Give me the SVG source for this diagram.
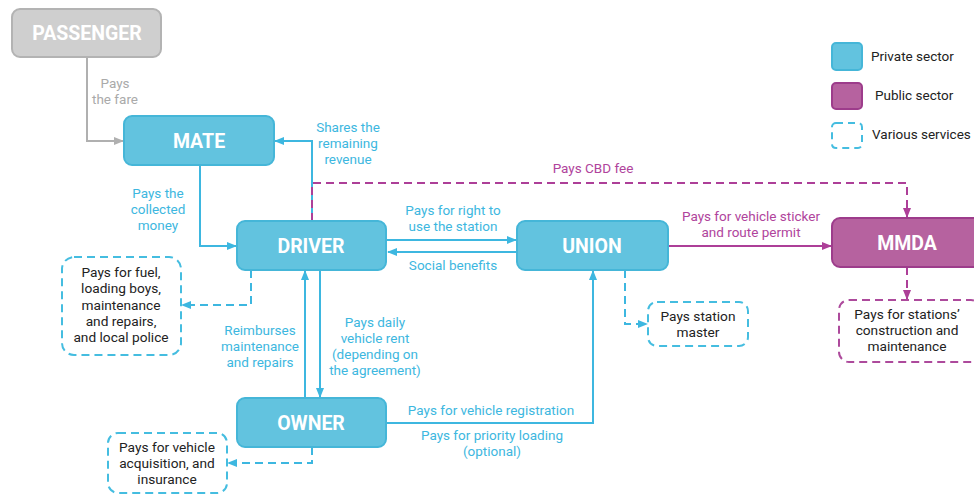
<svg xmlns="http://www.w3.org/2000/svg" width="974" height="495" viewBox="0 0 974 495">
<defs>
<style>
.node{stroke-width:2}
.priv{fill:#62c3df;stroke:#45b6d8}
.pub{fill:#b6629f;stroke:#9d3c8b}
.pas{fill:#cfcfcf;stroke:#b3b3b3}
.nt{font-family:Roboto,"Liberation Sans",sans-serif;font-weight:bold;font-size:19.5px;fill:#fff;text-anchor:middle}
.svc{fill:#fff;stroke:#45bde0;stroke-width:2;stroke-dasharray:8 5}
.svcm{fill:#fff;stroke:#ad4a9c;stroke-width:2;stroke-dasharray:8 5}
.st{font-family:Roboto,"Liberation Sans",sans-serif;font-size:13.7px;fill:#222;text-anchor:middle}
.lc{font-family:Roboto,"Liberation Sans",sans-serif;font-size:13.5px;fill:#3db7e0;text-anchor:middle}
.lm{font-family:Roboto,"Liberation Sans",sans-serif;font-size:13.5px;fill:#b0449c;text-anchor:middle}
.lg{font-family:Roboto,"Liberation Sans",sans-serif;font-size:13.5px;fill:#aaa;text-anchor:middle}
.leg{font-family:Roboto,"Liberation Sans",sans-serif;font-size:13.5px;fill:#222}
.cc{fill:none;stroke:#3db7e0;stroke-width:2}
.ccd{fill:none;stroke:#3db7e0;stroke-width:2;stroke-dasharray:8 5}
.cm{fill:none;stroke:#ad3f98;stroke-width:2}
.cmd{fill:none;stroke:#ad3f98;stroke-width:2;stroke-dasharray:8 5}
.cg{fill:none;stroke:#b0b0b0;stroke-width:2}
</style>
<marker id="ac" viewBox="0 0 10 10" refX="9" refY="5" markerWidth="5" markerHeight="5" orient="auto"><path d="M0,1 L10,5 L0,9 z" fill="#3db7e0"/></marker>
<marker id="am" viewBox="0 0 10 10" refX="9" refY="5" markerWidth="5" markerHeight="5" orient="auto"><path d="M0,1 L10,5 L0,9 z" fill="#ad3f98"/></marker>
<marker id="ag" viewBox="0 0 10 10" refX="9" refY="5" markerWidth="5" markerHeight="5" orient="auto"><path d="M0,1 L10,5 L0,9 z" fill="#b0b0b0"/></marker>
</defs>
<rect width="974" height="495" fill="#fff"/>

<g id="connectors">
<path class="cg" d="M87,58 V141 H123" marker-end="url(#ag)"/>
<path class="cc" d="M200,166 V246 H236" marker-end="url(#ac)"/>
<path class="cc" d="M312,221 V141 H275" marker-end="url(#ac)"/>
<path class="cmd" d="M312,221 V183 H907 V217" marker-end="url(#am)"/>
<path class="cc" d="M387,240 H516" marker-end="url(#ac)"/>
<path class="cc" d="M517,252 H388" marker-end="url(#ac)"/>
<path class="cm" d="M668,246 H831" marker-end="url(#am)"/>
<path class="cmd" d="M907,267 V299" marker-end="url(#am)"/>
<path class="ccd" d="M625,270 V324 H647" marker-end="url(#ac)"/>
<path class="ccd" d="M251,270 V305 H182" marker-end="url(#ac)"/>
<path class="cc" d="M305,398 V271" marker-end="url(#ac)"/>
<path class="cc" d="M320,270 V397" marker-end="url(#ac)"/>
<path class="cc" d="M387,423 H593 V271" marker-end="url(#ac)"/>
<path class="ccd" d="M312,447 V463 H228" marker-end="url(#ac)"/>
<text class="lg"><tspan x="115" y="88">Pays</tspan><tspan x="115" y="104">the fare</tspan></text>
<text class="lc"><tspan x="158" y="198">Pays the</tspan><tspan x="158" y="214">collected</tspan><tspan x="158" y="230">money</tspan></text>
<text class="lc"><tspan x="348" y="132">Shares the</tspan><tspan x="348" y="148">remaining</tspan><tspan x="348" y="164">revenue</tspan></text>
<text class="lm" x="593" y="173">Pays CBD fee</text>
<text class="lc"><tspan x="453" y="215">Pays for right to</tspan><tspan x="453" y="231">use the station</tspan></text>
<text class="lc" x="453" y="270">Social benefits</text>
<text class="lm"><tspan x="751" y="221">Pays for vehicle sticker</tspan><tspan x="751" y="237">and route permit</tspan></text>
<text class="lc"><tspan x="260" y="335">Reimburses</tspan><tspan x="260" y="351">maintenance</tspan><tspan x="260" y="367">and repairs</tspan></text>
<text class="lc"><tspan x="375" y="327">Pays daily</tspan><tspan x="375" y="343">vehicle rent</tspan><tspan x="375" y="359">(depending on</tspan><tspan x="375" y="375">the agreement)</tspan></text>
<text class="lc" x="491" y="415">Pays for vehicle registration</text>
<text class="lc"><tspan x="492" y="440">Pays for priority loading</tspan><tspan x="492" y="456">(optional)</tspan></text>
</g>

<g id="passenger"><rect class="node pas" x="12" y="9" width="149" height="48" rx="8"/><text class="nt" x="87" y="40">PASSENGER</text></g>
<g id="mate"><rect class="node priv" x="124" y="116" width="150" height="49" rx="8"/><text class="nt" x="199" y="148">MATE</text></g>
<g id="driver"><rect class="node priv" x="237" y="221" width="149" height="49" rx="8"/><text class="nt" x="311" y="253">DRIVER</text></g>
<g id="union"><rect class="node priv" x="517" y="221" width="151" height="49" rx="8"/><text class="nt" x="592" y="253">UNION</text></g>
<g id="mmda"><rect class="node pub" x="832" y="218" width="150" height="49" rx="8"/><text class="nt" x="907" y="250">MMDA</text></g>
<g id="owner"><rect class="node priv" x="237" y="398" width="149" height="49" rx="8"/><text class="nt" x="311" y="430">OWNER</text></g>

<g id="svc-driver"><rect class="svc" x="62" y="257" width="119" height="98" rx="12"/><text class="st"><tspan x="121" y="277">Pays for fuel,</tspan><tspan x="121" y="293">loading boys,</tspan><tspan x="121" y="310">maintenance</tspan><tspan x="121" y="326">and repairs,</tspan><tspan x="121" y="342">and local police</tspan></text></g>
<g id="svc-union"><rect class="svc" x="648" y="302" width="100" height="44" rx="9"/><text class="st"><tspan x="698" y="321">Pays station</tspan><tspan x="698" y="337">master</tspan></text></g>
<g id="svc-mmda"><rect class="svcm" x="839" y="300" width="142" height="62" rx="10"/><text class="st"><tspan x="907" y="319">Pays for stations’</tspan><tspan x="907" y="335">construction and</tspan><tspan x="907" y="351">maintenance</tspan></text></g>
<g id="svc-owner"><rect class="svc" x="108" y="433" width="119" height="60" rx="10"/><text class="st"><tspan x="167" y="452">Pays for vehicle</tspan><tspan x="167" y="468">acquisition, and</tspan><tspan x="167" y="484">insurance</tspan></text></g>

<g id="legend">
<rect class="node priv" x="832" y="43" width="30" height="27" rx="4"/>
<text class="leg" x="871" y="61">Private sector</text>
<rect class="node pub" x="832" y="83" width="30" height="26" rx="4"/>
<text class="leg" x="875" y="100">Public sector</text>
<rect class="svc" x="832" y="123" width="30" height="25" rx="4" style="stroke-dasharray:7 5"/>
<text class="leg" x="872" y="139">Various services</text>
</g>
</svg>
